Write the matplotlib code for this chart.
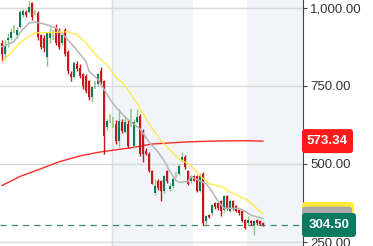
import matplotlib
matplotlib.use("Agg")
import matplotlib.pyplot as plt
from matplotlib.patches import FancyBboxPatch
from matplotlib.transforms import IdentityTransform

plt.rcParams['font.family'] = ['Liberation Sans', 'DejaVu Sans']

# candle data
opens = [889, 851, 898, 905, 930, 914, 940, 978, 987, 987, 1016, 985, 984, 914, 905, 844,
         905, 912, 940, 925, 889, 930, 860, 787, 778, 819, 809, 787, 781, 765, 714, 755,
         755, 797, 765, 619, 640, 630, 628, 574, 635, 603, 628, 625, 558, 635, 654, 606,
         542, 533, 479, 406, 447, 444, 412, 476, 419, 428, 462, 469, 510, 523, 476, 444,
         460, 460, 415, 469, 317, 336, 342, 374, 374, 380, 352, 396, 349, 380, 364, 352,
         349, 320, 310, 317, 304, 320, 317, 310]
highs = [898, 898, 921, 936, 946, 940, 994, 997, 994, 1022, 1020, 994, 990, 918, 915, 924,
         940, 930, 950, 935, 920, 936, 865, 797, 830, 830, 820, 792, 790, 770, 750, 765,
         792, 810, 770, 645, 660, 650, 640, 676, 645, 654, 640, 676, 645, 676, 660, 612,
         550, 540, 482, 453, 452, 450, 465, 480, 440, 458, 475, 500, 539, 528, 480, 465,
         465, 465, 470, 475, 336, 340, 372, 378, 377, 384, 402, 400, 388, 385, 368, 356,
         352, 323, 333, 320, 320, 323, 320, 313]
lows = [829, 835, 876, 898, 921, 905, 935, 972, 972, 984, 962, 976, 898, 867, 860, 813,
        889, 898, 880, 870, 880, 845, 790, 765, 775, 798, 775, 740, 728, 705, 698, 740,
        750, 750, 533, 610, 632, 615, 565, 555, 600, 598, 550, 619, 550, 630, 525, 507,
        528, 475, 435, 400, 418, 383, 408, 440, 415, 424, 455, 465, 505, 485, 432, 440,
        444, 410, 410, 305, 301, 326, 338, 356, 354, 333, 346, 354, 345, 354, 345, 338,
        313, 292, 304, 306, 272, 306, 304, 302]
closes = [851, 882, 905, 924, 926, 930, 987, 990, 978, 1003, 971, 988, 908, 876, 873, 921,
          921, 915, 889, 876, 914, 851, 797, 778, 825, 803, 781, 749, 733, 714, 746, 758,
          787, 755, 590, 638, 642, 632, 574, 638, 606, 635, 558, 628, 635, 650, 533, 533,
          533, 479, 437, 428, 422, 412, 460, 444, 431, 453, 465, 495, 523, 491, 437, 460,
          447, 415, 460, 310, 333, 330, 368, 361, 358, 349, 396, 358, 383, 358, 349, 342,
          317, 295, 320, 310, 317, 310, 307, 304.5]

# moving averages
gray_idx = [0, 4, 6, 9, 11, 14, 18, 21, 24, 28, 29, 32, 34, 36, 38, 41, 43, 46, 49, 52,
            54, 56, 58, 59, 62, 63, 65, 68, 70, 72, 74, 77, 79, 81, 83, 87]
gray_val = [876, 892, 921, 952, 955, 949, 936, 908, 876, 828, 797, 771, 739, 708, 682, 650,
            635, 612, 571, 539, 511, 476, 447, 441, 444, 460, 450, 437, 412, 380, 358, 358,
            358, 349, 336, 325]
yellow_idx = [0, 3, 6, 9, 11, 16, 22, 25, 28, 32, 35, 38, 41, 43, 45, 48, 50, 53, 56, 59,
              63, 66, 69, 73, 77, 82, 87]
yellow_val = [828, 857, 889, 908, 921, 921, 924, 914, 889, 841, 819, 778, 752, 722, 695, 645,
              615, 575, 545, 517, 495, 463, 437, 428, 406, 383, 340]
red_idx = [0, 6, 13, 19, 26, 33, 43, 50, 62, 73, 82, 87]
red_val = [431, 460, 485, 507, 526, 539, 552, 564, 571, 574, 574.5, 573.34]

yticks = [250, 500, 750, 1000]
last_price = 304.50

UP = '#0b7a5e'
DOWN = '#c8161d'
DOJI = '#93c47d'

W, H = 373, 246
fig = plt.figure(figsize=(W / 100, H / 100), dpi=100)
ax = fig.add_axes([0, 0, 303 / W, 1])
ax.set_xlim(-0.67, 100.33)
ax.set_ylim(237.2, 1025.6)

# shaded periods
ax.axvspan(36.8, 63.7, color='#f1f5f9', lw=0, zorder=0)
ax.axvspan(81.6, 101, color='#f1f5f9', lw=0, zorder=0)
ax.axvline(36.8, color='#d8dde3', lw=1, zorder=0.5)
for v in yticks:
    ax.axhline(v, color='#d9d9d9', lw=1, zorder=0.5)

ax.plot(red_idx, red_val, color='#ff2a2a', lw=1.0, zorder=2)

for i in range(len(opens)):
    o, h, l, c = opens[i], highs[i], lows[i], closes[i]
    if abs(c - o) <= 4:
        ax.vlines(i, l, h, color=DOJI, lw=1.1, zorder=3)
        continue
    col = UP if c > o else DOWN
    wick = DOJI if c > o else DOWN
    ax.vlines(i, l, h, color=wick, lw=1.0, zorder=3)
    ax.bar(i, abs(c - o), bottom=min(o, c), width=0.9, color=col, lw=0, zorder=4)

ax.plot(gray_idx, gray_val, color='#b5b5b5', lw=1.1, zorder=5)
ax.plot(yellow_idx, yellow_val, color='#ffeb3b', lw=0.9, zorder=5)

ax.axhline(last_price, color='#3d8a70', lw=0.9, dashes=(5, 4), zorder=2)

for s in ['top', 'left', 'bottom']:
    ax.spines[s].set_visible(False)
ax.spines['right'].set_color('#444444')
ax.set_xticks([])
ax.yaxis.tick_right()
ax.set_yticks(yticks)
ax.set_yticklabels([f"{v:,.2f}" for v in yticks])
ax.tick_params(axis='y', length=3, color='#444444', labelcolor='#333333',
               labelsize=9.5, pad=2)

# price tags on the axis
fig.canvas.draw()


def tag(value, color, width, text=None):
    yc = ax.transData.transform((0, value))[1]
    box = FancyBboxPatch((302, yc - 12), width, 24, boxstyle='round,pad=0,rounding_size=3',
                         transform=IdentityTransform(), fc=color, ec='none')
    fig.add_artist(box)
    if text:
        fig.text(302 + width / 2, yc, text, transform=IdentityTransform(), color='white',
                 fontsize=9.5, fontweight='bold', ha='center', va='center')


tag(red_val[-1], '#ff1a1a', 51, f"{red_val[-1]:.2f}")
tag(yellow_val[-1], '#ffeb3b', 52)
tag(gray_val[-1], '#aaaaaa', 50)
tag(last_price, '#0b7a60', 54, f"{last_price:.2f}")

fig.savefig('out.png', dpi=100)
